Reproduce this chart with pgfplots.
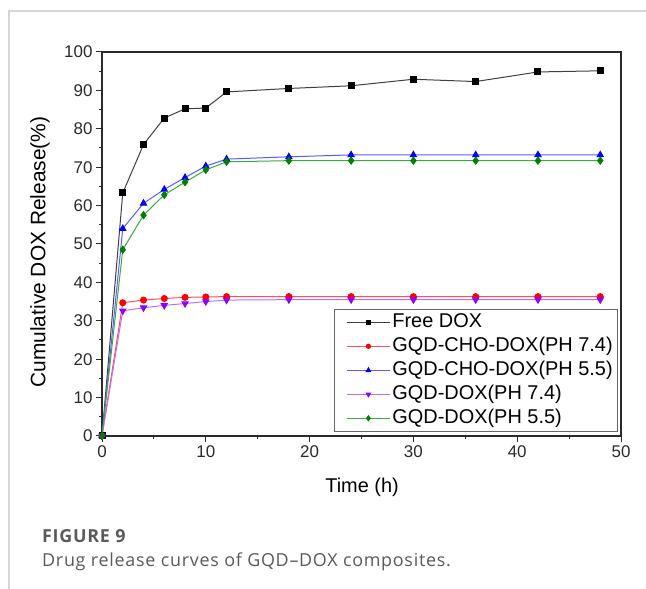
\documentclass[border=0pt]{standalone}
\usepackage{fontspec}
\setmainfont{Liberation Sans}
\newfontfamily\capfont[LetterSpace=4]{Open Sans}
\usepackage{pgfplots}
\pgfplotsset{compat=1.18}
\definecolor{axgray}{HTML}{2A2A2A}
\definecolor{cpurple}{RGB}{140,0,255}
\definecolor{lpurple}{RGB}{190,110,255}
\definecolor{cgreen}{RGB}{0,128,0}
\definecolor{lgreen}{RGB}{60,170,60}
\definecolor{lred}{RGB}{255,80,80}
\definecolor{lblue}{RGB}{90,90,255}
\definecolor{capgray}{HTML}{5A5A5A}
\definecolor{framegray}{HTML}{D6D6D6}
\begin{document}
\begin{tikzpicture}[x=1bp,y=1bp]
\useasboundingbox (0,0) rectangle (646,589);
\draw[framegray, line width=1.5bp] (9,0) -- (9,578) -- (646,578);
\begin{axis}[
  at={(102bp,153bp)}, anchor=south west, scale only axis,
  width=519bp, height=384bp,
  xmin=0, xmax=50, ymin=0, ymax=100,
  xtick={0,10,...,50}, ytick={0,10,...,100},
  minor x tick num=1, minor y tick num=1,
  tick align=outside, tick pos=left,
  major tick length=6bp, minor tick length=3.5bp,
  axis line style={axgray, line width=1.1bp},
  every tick/.style={axgray, line width=1bp},
  tick label style={font=\fontsize{17}{20}\selectfont, text=axgray},
  /pgf/number format/assume math mode=true,
  xlabel={Time (h)},
  ylabel={Cumulative DOX Release(\%)},
  xlabel style={font=\fontsize{20}{24}\selectfont, at={(axis description cs:0.501,-0.133)}, anchor=center},
  ylabel style={font=\fontsize{21}{24}\selectfont, at={(axis description cs:-0.1195,0.479)}, anchor=center},
  legend cell align=left,
  legend style={at={(axis description cs:0.447,0.331)}, anchor=north west,
    draw=gray!80!black, line width=0.8bp,
    font=\fontsize{20}{22}\selectfont,
    inner xsep=3bp, inner ysep=2bp,
    nodes={inner sep=2bp, text height=14bp, text depth=4bp},
    row sep=2bp},
  legend image code/.code={\path (0bp,0bp); \draw[mark repeat=2, mark phase=2, every mark/.append style={scale=0.7}] plot coordinates {(9bp,0bp) (30.5bp,0bp) (52bp,0bp)};},
]
\addplot[color=black!75, line width=1bp, mark=square*, mark size=3bp, mark options={fill=black, draw=black}]
  coordinates {(0,0)(2,63.3)(4,75.9)(6,82.8)(8,85.2)(10,85.4)(12,89.6)(18,90.5)(24,91.2)(30,92.9)(36,92.3)(42,94.8)(48,95.1)};
\addlegendentry{Free DOX}
\addplot[color=lred, line width=1bp, mark=*, mark size=3bp, mark options={fill=red, draw=red}]
  coordinates {(0,0)(2,34.7)(4,35.4)(6,35.8)(8,36.1)(10,36.2)(12,36.3)(18,36.3)(24,36.3)(30,36.3)(36,36.3)(42,36.3)(48,36.3)};
\addlegendentry{GQD-CHO-DOX(PH 7.4)}
\addplot[color=lblue, line width=1bp, mark=triangle*, mark size=3.5bp, mark options={fill=blue, draw=blue}]
  coordinates {(0,0)(2,54)(4,60.6)(6,64.2)(8,67.3)(10,70.3)(12,72.1)(18,72.7)(24,73.2)(30,73.2)(36,73.2)(42,73.2)(48,73.2)};
\addlegendentry{GQD-CHO-DOX(PH 5.5)}
\addplot[color=lpurple, line width=1bp, mark=triangle*, mark size=3.5bp, mark options={fill=cpurple, draw=cpurple, rotate=180}]
  coordinates {(0,0)(2,32.6)(4,33.4)(6,34.0)(8,34.5)(10,35.0)(12,35.4)(18,35.5)(24,35.5)(30,35.5)(36,35.5)(42,35.5)(48,35.5)};
\addlegendentry{GQD-DOX(PH 7.4)}
\addplot[color=lgreen, line width=1bp, mark=diamond*, mark size=3.5bp, mark options={fill=cgreen, draw=cgreen}]
  coordinates {(0,0)(2,48.5)(4,57.5)(6,62.8)(8,66.1)(10,69.3)(12,71.4)(18,71.7)(24,71.7)(30,71.7)(36,71.7)(42,71.7)(48,71.7)};
\addlegendentry{GQD-DOX(PH 5.5)}
\end{axis}
\node[anchor=base west, inner sep=0, text=capgray, font=\capfont\bfseries\fontsize{18}{20}\selectfont] at (42,46) {FIGURE 9};
\node[anchor=base west, inner sep=0, text=capgray, font=\capfont\fontsize{18}{20}\selectfont] at (42,22) {Drug release curves of GQD–DOX composites.};
\end{tikzpicture}
\end{document}
